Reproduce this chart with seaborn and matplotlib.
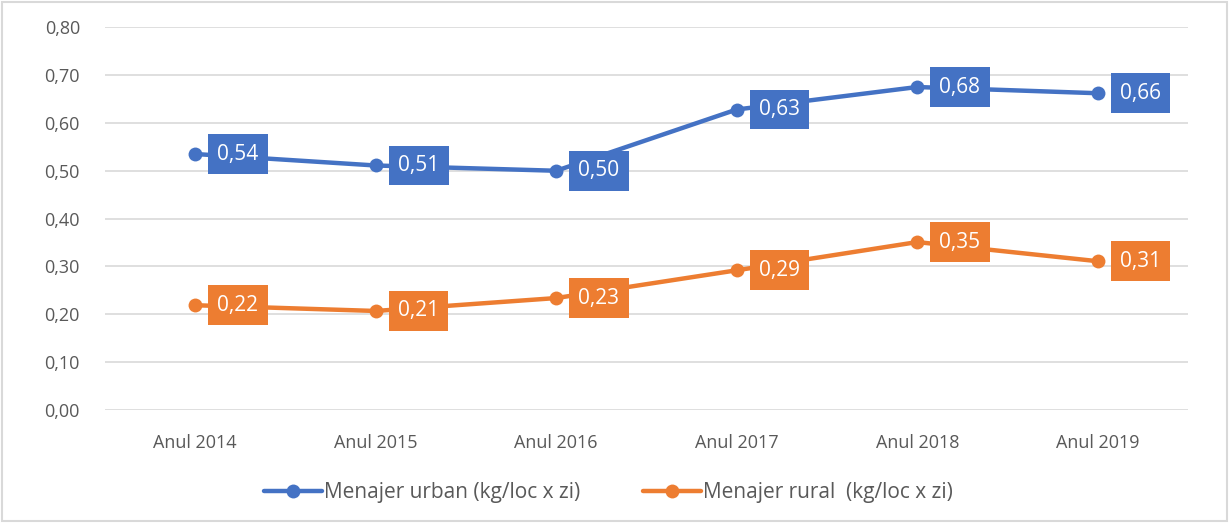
import matplotlib
matplotlib.use('Agg')
import matplotlib.pyplot as plt
import seaborn as sns
import pandas as pd
from matplotlib.patches import Rectangle

# date
ani = ['Anul 2014', 'Anul 2015', 'Anul 2016', 'Anul 2017', 'Anul 2018', 'Anul 2019']
urban = [0.535, 0.511, 0.500, 0.628, 0.675, 0.662]
rural = [0.219, 0.207, 0.234, 0.292, 0.351, 0.311]
serii = ['Menajer urban (kg/loc x zi)', 'Menajer rural  (kg/loc x zi)']
culori = ['#4472C4', '#ED7D31']

df = pd.DataFrame({
    'an': ani * 2,
    'val': urban + rural,
    'serie': [serii[0]] * len(ani) + [serii[1]] * len(ani),
})

sns.set_style('white')
plt.rcParams['font.family'] = ['Open Sans', 'DejaVu Sans']

fig = plt.figure(figsize=(12.29, 5.23), dpi=100)
ax = fig.add_axes([0.0854, 0.216, 0.8812, 0.732])

sns.lineplot(data=df, x='an', y='val', hue='serie', palette=culori,
             marker='o', markersize=10, markeredgewidth=0, linewidth=3.2,
             sort=False, ax=ax)

# etichete valori
for vals, c in zip([urban, rural], culori):
    for i, v in enumerate(vals):
        ax.annotate(('%.2f' % v).replace('.', ','), xy=(i, v), xytext=(16, 0),
                    textcoords='offset points', ha='left', va='center',
                    fontsize=15, color='white',
                    bbox=dict(boxstyle='square,pad=0.45', fc=c, ec='none'))

ax.set_ylim(0, 0.8)
ax.set_xlim(-0.5, 5.5)
ax.set_yticks([i / 10 for i in range(9)])
ax.set_yticklabels([('%.2f' % (i / 10)).replace('.', ',') for i in range(9)])
ax.grid(axis='y', color='#d9d9d9', linewidth=1.2)
ax.set_axisbelow(True)
for s in ax.spines.values():
    s.set_visible(False)
ax.tick_params(axis='both', length=0, labelsize=13, labelcolor='#595959')
ax.tick_params(axis='y', pad=18)
ax.tick_params(axis='x', pad=17)
ax.set_xlabel('')
ax.set_ylabel('')

leg = ax.legend(loc='upper center', bbox_to_anchor=(0.465, -0.14), ncol=2,
                frameon=False, fontsize=15, handlelength=2.8, handletextpad=0.1,
                columnspacing=3.0, labelcolor='#595959')

fig.patches.append(Rectangle((0.002, 0.003), 0.996, 0.994, transform=fig.transFigure,
                             fill=False, ec='#d9d9d9', lw=1.5))

fig.savefig('out.png', dpi=100)
